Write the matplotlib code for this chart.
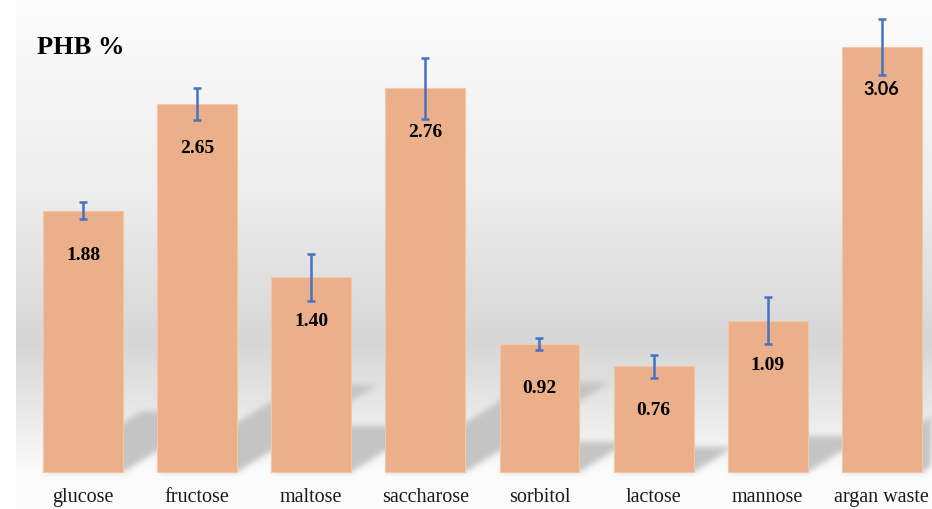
import numpy as np
import matplotlib.pyplot as plt

plt.rcParams['font.family'] = 'Liberation Serif'

sugars = ['glucose', 'fructose', 'maltose', 'saccharose', 'sorbitol',
          'lactose', 'mannose', 'argan waste']
phb = [1.88, 2.65, 1.40, 2.76, 0.92, 0.76, 1.09, 3.06]
phb_err = [0.06, 0.115, 0.17, 0.22, 0.045, 0.08, 0.17, 0.20]

barColor = '#EBB089'
errColor = '#4472C4'
barWidth = 0.7
W, H = 932, 509
x0, x1 = -0.728, 7.44
y0, y1 = -0.266, 3.396

fig = plt.figure(figsize=(W / 100, H / 100), dpi=100)
ax = fig.add_axes([0, 0, 1, 1])
ax.set_xlim(x0, x1)
ax.set_ylim(y0, y1)
ax.axis('off')

# background: soft grey band plus the slanted floor shadows of the bars
ppu_x = W / (x1 - x0)
ppu_y = H / (y1 - y0)
gx = x0 + (np.arange(W) + 0.5) / ppu_x
gy = y1 - (np.arange(H) + 0.5) / ppu_y
stops_y = [y0, 0.0, 0.09, 0.52, 0.93, 2.0, 2.7, y1]
stops_g = [0.985, 0.985, 0.97, 0.90, 0.84, 0.93, 0.96, 0.99]
grey = np.interp(gy, stops_y, stops_g)
img = np.repeat(grey[:, None], W, axis=1)

X, Y = np.meshgrid(gx, gy)
slope = 0.62
k = 0.235
shift = Y * (ppu_y / ppu_x) / slope
mask = np.zeros_like(X)
for i, v in enumerate(phb):
    inside = (Y >= 0) & (Y <= k * v) & (X >= i - barWidth / 2 + shift) & (X <= i + barWidth / 2 + shift)
    mask[inside] = 1.0

kern = np.ones(7) / 7
for _ in range(2):
    mask = np.apply_along_axis(lambda r: np.convolve(r, kern, mode='same'), 1, mask)
    mask = np.apply_along_axis(lambda c: np.convolve(c, kern, mode='same'), 0, mask)

img = img * (1 - mask) + 0.77 * mask
img[:, :16] = 1.0
ax.imshow(np.dstack([img] * 3), extent=(x0, x1, y0, y1), aspect='auto',
          interpolation='nearest', zorder=0)

xs = np.arange(len(sugars))
ax.bar(xs, phb, width=barWidth, color=barColor, edgecolor='#F2C6A6', linewidth=0.8, zorder=2)
ax.errorbar(xs, phb, yerr=phb_err, fmt='none', ecolor=errColor, elinewidth=1.8,
            capsize=2.8, capthick=1.8, zorder=3)

for i, v in enumerate(phb):
    if sugars[i] == 'argan waste':
        ax.text(i, v - 0.31, f'{v:.2f}', ha='center', va='center', fontsize=13,
                fontweight='bold', family='Lato', zorder=4)
    else:
        ax.text(i, v - 0.32, f'{v:.2f}', ha='center', va='center', fontsize=14,
                fontweight='bold', zorder=4)

for i, name in enumerate(sugars):
    ax.text(i, -0.185, name, ha='center', va='center', fontsize=14.5,
            color='#1a1a1a', zorder=4)

fig.text(37 / W, 1 - 47 / H, 'PHB %', fontsize=19, fontweight='bold', va='center', ha='left')

plt.savefig('out.png', dpi=100)
